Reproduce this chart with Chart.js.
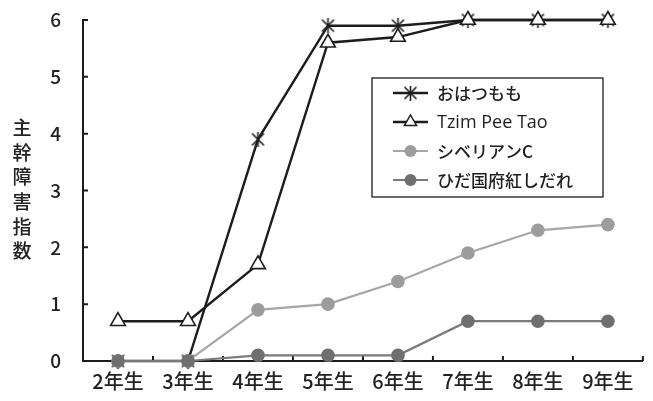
<!DOCTYPE html>
<html lang="ja">
<head>
<meta charset="utf-8">
<title>主幹障害指数の推移</title>
<script src="https://cdn.jsdelivr.net/npm/chart.js@4.4.1/dist/chart.umd.min.js"></script>
<style>
  html, body { margin: 0; padding: 0; background: #ffffff; }
  #wrap { width: 653px; height: 401px; position: relative; }
</style>
</head>
<body>
<div id="wrap"><canvas id="c" width="653" height="401"></canvas></div>
<script>
// Tree age classes
const categories = ['2年生', '3年生', '4年生', '5年生', '6年生', '7年生', '8年生', '9年生'];

// Trunk damage index per cultivar
const ohatsumomo = [0, 0, 3.9, 5.9, 5.9, 6, 6, 6];
const tzimPeeTao = [0.7, 0.7, 1.7, 5.6, 5.7, 6, 6, 6];
const siberianC = [0, 0, 0.9, 1.0, 1.4, 1.9, 2.3, 2.4];
const hidaKokufu = [0, 0, 0.1, 0.1, 0.1, 0.7, 0.7, 0.7];

// Value axis
const yTicks = [0, 1, 2, 3, 4, 5, 6];
const yTitle = '主幹障害指数';

const seriesNames = ['おはつもも', 'Tzim Pee Tao', 'シベリアンC', 'ひだ国府紅しだれ'];

const INK = '#1c1c1c';
const CJK = '"Noto Sans CJK JP", "Noto Sans", sans-serif';

// Six-spoke asterisk marker (an X with a vertical bar)
function makeAsterisk(size, color, width) {
  const cv = document.createElement('canvas');
  cv.width = size; cv.height = size;
  const g = cv.getContext('2d');
  const m = 1.5, s = size - 1.5;
  g.strokeStyle = color;
  g.lineWidth = width;
  g.lineCap = 'butt';
  g.beginPath();
  g.moveTo(m, m); g.lineTo(s, s);
  g.moveTo(s, m); g.lineTo(m, s);
  g.moveTo(size / 2, 0); g.lineTo(size / 2, size);
  g.stroke();
  return cv;
}
const asterisk = makeAsterisk(15, INK, 1.6);

const styles = [
  { line: INK, width: 2.4, marker: 'asterisk', fill: INK, radius: 7 },
  { line: INK, width: 2.4, marker: 'triangle', fill: '#ffffff', radius: 8.5 },
  { line: '#a6a6a6', width: 2.2, marker: 'circle', fill: '#9c9c9c', radius: 6.8 },
  { line: '#7a7a7a', width: 2.2, marker: 'circle', fill: '#6f6f6f', radius: 6.8 }
];

function makeDataset(i, values, order) {
  const s = styles[i];
  return {
    label: seriesNames[i],
    data: values,
    borderColor: s.line,
    borderWidth: s.width,
    pointStyle: s.marker === 'asterisk' ? asterisk : s.marker,
    pointRadius: s.radius,
    pointBackgroundColor: s.fill,
    pointBorderColor: s.marker === 'triangle' ? INK : s.fill,
    pointBorderWidth: s.marker === 'triangle' ? 1.6 : 0,
    tension: 0,
    clip: false,
    order: order
  };
}

// Short tick marks pointing into the plot area
const inwardTicks = {
  id: 'inwardTicks',
  beforeDatasetsDraw(chart) {
    const ctx = chart.ctx;
    const x = chart.scales.x, y = chart.scales.y;
    const len = 5;
    ctx.save();
    ctx.strokeStyle = INK;
    ctx.lineWidth = 2;
    ctx.beginPath();
    y.ticks.forEach(t => {
      const py = y.getPixelForValue(t.value);
      ctx.moveTo(x.left, py);
      ctx.lineTo(x.left + len, py);
    });
    const n = categories.length;
    const step = (x.right - x.left) / n;
    for (let i = 1; i <= n; i++) {
      const px = x.getPixelForValue(i - 1) + step / 2;
      ctx.moveTo(px, y.bottom);
      ctx.lineTo(px, y.bottom - len);
    }
    ctx.stroke();
    ctx.restore();
  }
};

// Vertical, stacked axis title
const stackedTitle = {
  id: 'stackedTitle',
  afterDraw(chart) {
    const ctx = chart.ctx;
    const ca = chart.chartArea;
    const chars = Array.from(yTitle);
    const gap = 24.6;
    const mid = (ca.top + ca.bottom) / 2 - 1;
    const start = mid - gap * (chars.length - 1) / 2;
    ctx.save();
    ctx.fillStyle = '#222222';
    ctx.font = '500 19px ' + CJK;
    ctx.textAlign = 'center';
    ctx.textBaseline = 'middle';
    chars.forEach((ch, i) => ctx.fillText(ch, 22, start + i * gap));
    ctx.restore();
  }
};

// Boxed legend inside the plot area
const boxLegend = {
  id: 'boxLegend',
  afterDraw(chart) {
    const ctx = chart.ctx;
    const ca = chart.chartArea;
    const bx = ca.left + 289, by = ca.top + 58, bw = 231, bh = 119;
    ctx.save();
    ctx.fillStyle = '#ffffff';
    ctx.fillRect(bx, by, bw, bh);
    ctx.strokeStyle = INK;
    ctx.lineWidth = 1.3;
    ctx.strokeRect(bx, by, bw, bh);
    const rowGap = 29;
    seriesNames.forEach((name, i) => {
      const s = styles[i];
      const cy = by + 15 + i * rowGap;
      const x0 = bx + 21, x1 = bx + 56, mx = (x0 + x1) / 2;
      ctx.strokeStyle = s.line;
      ctx.lineWidth = s.width;
      ctx.beginPath(); ctx.moveTo(x0, cy); ctx.lineTo(x1, cy); ctx.stroke();
      if (s.marker === 'asterisk') {
        ctx.drawImage(asterisk, mx - asterisk.width / 2, cy - asterisk.height / 2);
      } else if (s.marker === 'triangle') {
        const r = 7;
        ctx.beginPath();
        ctx.moveTo(mx, cy - r);
        ctx.lineTo(mx + r * 0.866, cy + r / 2);
        ctx.lineTo(mx - r * 0.866, cy + r / 2);
        ctx.closePath();
        ctx.fillStyle = '#ffffff'; ctx.fill();
        ctx.strokeStyle = INK; ctx.lineWidth = 1.5; ctx.stroke();
      } else {
        ctx.beginPath(); ctx.arc(mx, cy, 6, 0, Math.PI * 2);
        ctx.fillStyle = s.fill; ctx.fill();
      }
      ctx.fillStyle = '#1e1e1e';
      ctx.textAlign = 'left';
      ctx.textBaseline = 'middle';
      ctx.font = (i === 1 ? '500 18px "Open Sans", sans-serif' : '500 17px ' + CJK);
      ctx.fillText(name, bx + 65, cy + 1);
    });
    ctx.restore();
  }
};

new Chart(document.getElementById('c'), {
  type: 'line',
  data: {
    labels: categories,
    datasets: [
      makeDataset(0, ohatsumomo, 3),
      makeDataset(1, tzimPeeTao, 2),
      makeDataset(2, siberianC, 1),
      makeDataset(3, hidaKokufu, 0)
    ]
  },
  options: {
    responsive: false,
    animation: false,
    devicePixelRatio: 1,
    layout: { padding: { left: 0, right: 10, top: 0, bottom: 0 } },
    plugins: {
      legend: { display: false },
      tooltip: { enabled: false },
      title: { display: false }
    },
    scales: {
      x: {
        type: 'category',
        offset: true,
        grid: { display: false, drawTicks: false },
        border: { display: true, color: INK, width: 2 },
        ticks: { color: '#222222', font: { family: CJK, size: 20, weight: 500 }, padding: 8, maxRotation: 0 },
        afterFit(scale) { scale.height = 40; }
      },
      y: {
        min: 0,
        max: 6,
        afterBuildTicks(scale) { scale.ticks = yTicks.map(v => ({ value: v })); },
        grid: { display: false, drawTicks: false },
        border: { display: true, color: INK, width: 2 },
        ticks: { color: '#222222', font: { family: CJK, size: 19, weight: 500 }, padding: 22 },
        afterFit(scale) {
          scale.width = 83;
          scale.paddingTop = 20;
          scale.paddingBottom = 12;
        }
      }
    }
  },
  plugins: [inwardTicks, stackedTitle, boxLegend]
});
</script>
</body>
</html>
